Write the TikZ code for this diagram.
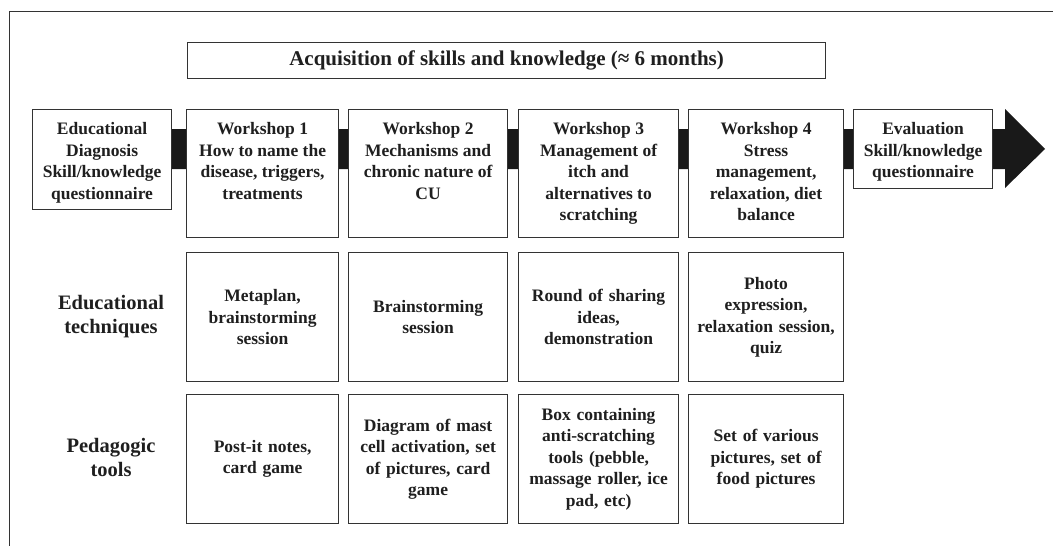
\documentclass[tikz,border=0pt]{standalone}
\usepackage{fontspec}
\setmainfont{Liberation Serif}
% top-aligned text inside a fixed-size box: height, width, text
\newcommand\toptext[3]{\parbox[c][#1pt][t]{#2pt}{\centering\vspace*{13pt}#3\par}}
\begin{document}
\begin{tikzpicture}[x=1pt,y=-1pt,
  frame/.style={draw=black!80, line width=1pt},
  card/.style={draw=black!80, line width=1.2pt, fill=white, inner sep=0pt,
    anchor=north west, text=black!88,
    font=\fontsize{17.5}{21.5}\selectfont\bfseries},
  cell/.style={card, align=center, minimum height=129pt},
  title/.style={card, minimum width=638pt, minimum height=36pt,
    font=\fontsize{21}{24}\selectfont\bfseries},
  rowlabel/.style={align=center, text=black!88, inner sep=0pt,
    font=\fontsize{20.5}{24}\selectfont\bfseries},
  band/.style={fill=black!90}]
\useasboundingbox (0,0) rectangle (1053,546);

% open frame: top and left edges
\draw[frame] (9,546) -- (9,11) -- (1053,11);

% timeline arrow running behind the boxes
\coordinate (tip) at (1045,149);
\fill[band] (150,129) -- (1005,129) -- (1005,109) -- (tip)
  -- (1005,188) -- (1005,169) -- (150,169) -- cycle;

% title
\node[title] (phase) at (187,42) {Acquisition of skills and knowledge (≈ 6 months)};

% steps along the timeline
\node[card] (diag) at (32,109) {\toptext{100}{139}{Educational\\Diagnosis\\Skill/knowledge\\questionnaire}};
\node[card] (w1) at (186,109) {\toptext{128}{152}{Workshop 1\\How to name the\\disease, triggers,\\treatments}};
\node[card] (w2) at (348,109) {\toptext{128}{159}{Workshop 2\\Mechanisms and\\chronic nature of\\CU}};
\node[card] (w3) at (518,109) {\toptext{128}{160}{Workshop 3\\Management of\\itch and\\alternatives to\\scratching}};
\node[card] (w4) at (688,109) {\toptext{128}{155}{Workshop 4\\Stress\\management,\\relaxation, diet\\balance}};
\node[card] (eval) at (853,109) {\toptext{79}{139}{Evaluation\\Skill/knowledge\\questionnaire}};

% row labels
\node[rowlabel] (techlabel) at (111,317) {Educational\\techniques};
\node[rowlabel] (toollabel) at (111,457) {Pedagogic\\tools};

% educational techniques
\node[cell, text width=152pt] (t1) at (186,252) {Metaplan,\\brainstorming\\session};
\node[cell, text width=159pt] (t2) at (348,252) {Brainstorming\\session};
\node[cell, text width=160pt] (t3) at (518,252) {Round of sharing\\ideas,\\demonstration};
\node[cell, text width=155pt] (t4) at (688,252) {Photo\\expression,\\relaxation session,\\quiz};

% pedagogic tools
\node[cell, text width=152pt] (p1) at (186,394) {Post-it notes,\\card game};
\node[cell, text width=159pt] (p2) at (348,394) {Diagram of mast\\cell activation, set\\of pictures, card\\game};
\node[cell, text width=160pt] (p3) at (518,394) {Box containing\\anti-scratching\\tools (pebble,\\massage roller, ice\\pad, etc)};
\node[cell, text width=155pt] (p4) at (688,394) {Set of various\\pictures, set of\\food pictures};
\end{tikzpicture}
\end{document}
